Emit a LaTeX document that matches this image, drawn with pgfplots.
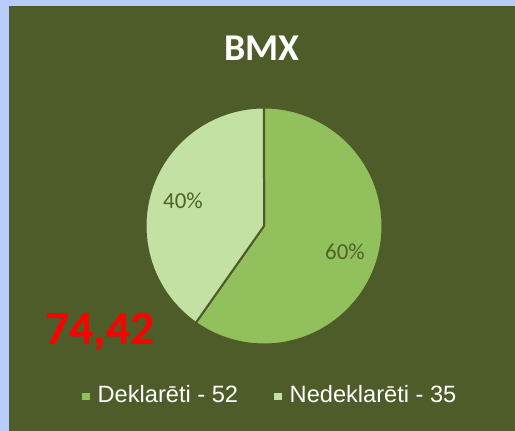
\documentclass[border=0pt]{standalone}
\usepackage{pgfplots}
\usepackage{pgfplotstable}
\pgfplotsset{compat=1.18}
\usetikzlibrary{calc}
\usepackage{fontspec}
\setmainfont{Carlito}
\newfontfamily\arialf{Liberation Sans}
\definecolor{bgblue}{RGB}{184,204,250}
\definecolor{bggreen}{RGB}{77,92,40}
\definecolor{sliceA}{RGB}{146,192,92}
\definecolor{sliceB}{RGB}{194,225,162}
\definecolor{lbl}{RGB}{79,98,40}
\pgfplotstableread{
label value
Deklareti 52
Nedeklareti 35
}\piedata
\begin{document}
\begin{tikzpicture}
\pgfplotstablegetelem{0}{value}\of\piedata \let\va\pgfplotsretval
\pgfplotstablegetelem{1}{value}\of\piedata \let\vb\pgfplotsretval
\pgfmathsetmacro{\tot}{\va+\vb}
\pgfmathsetmacro{\fa}{\va/\tot}
\pgfmathsetmacro{\fb}{\vb/\tot}
\pgfmathsetmacro{\ea}{90-360*\fa}
\pgfmathsetmacro{\eb}{\ea-360*\fb}
\pgfmathsetmacro{\ma}{(90+\ea)/2}
\pgfmathsetmacro{\mb}{(\ea+\eb)/2}
\begin{axis}[
  scale only axis, width=515bp, height=431bp,
  xmin=0, xmax=515, ymin=0, ymax=431,
  hide axis, clip=false]
\fill[bgblue] (axis cs:0,0) rectangle (axis cs:515,431);
\fill[bggreen] (axis cs:9,0) rectangle (axis cs:515,425);
\node[white, font=\bfseries\fontsize{38}{40}\selectfont] at (axis cs:262,383) {BMX};
% pie
\filldraw[sliceA, draw=bggreen, line width=2bp, line join=round] (axis cs:264,205) -- ++(90:118.5bp)
  arc[start angle=90, end angle=\ea, radius=118.5bp] -- cycle;
\filldraw[sliceB, draw=bggreen, line width=2bp, line join=round] (axis cs:264,205) -- ++(\ea:118.5bp)
  arc[start angle=\ea, end angle=\eb, radius=118.5bp] -- cycle;
\node[lbl, font=\fontsize{23}{26}\selectfont] at ($(axis cs:264,205)+(\ma:85bp)$) {60\%};
\node[lbl, font=\fontsize{23}{26}\selectfont] at ($(axis cs:264,205)+(\mb:85bp)$) {40\%};
\node[red, font=\bfseries\fontsize{48}{50}\selectfont] at (axis cs:100,99) {74,42};
% legend
\fill[sliceA] (axis cs:82,31) rectangle (axis cs:90,38);
\node[anchor=base west, white, inner sep=0pt, font=\arialf\fontsize{23.7}{26}\selectfont] at (axis cs:97.5,29) {Deklarēti - 52};
\fill[sliceB] (axis cs:274,31) rectangle (axis cs:282,38);
\node[anchor=base west, white, inner sep=0pt, font=\arialf\fontsize{23.7}{26}\selectfont] at (axis cs:289.5,29) {Nedeklarēti - 35};
\end{axis}
\end{tikzpicture}
\end{document}
